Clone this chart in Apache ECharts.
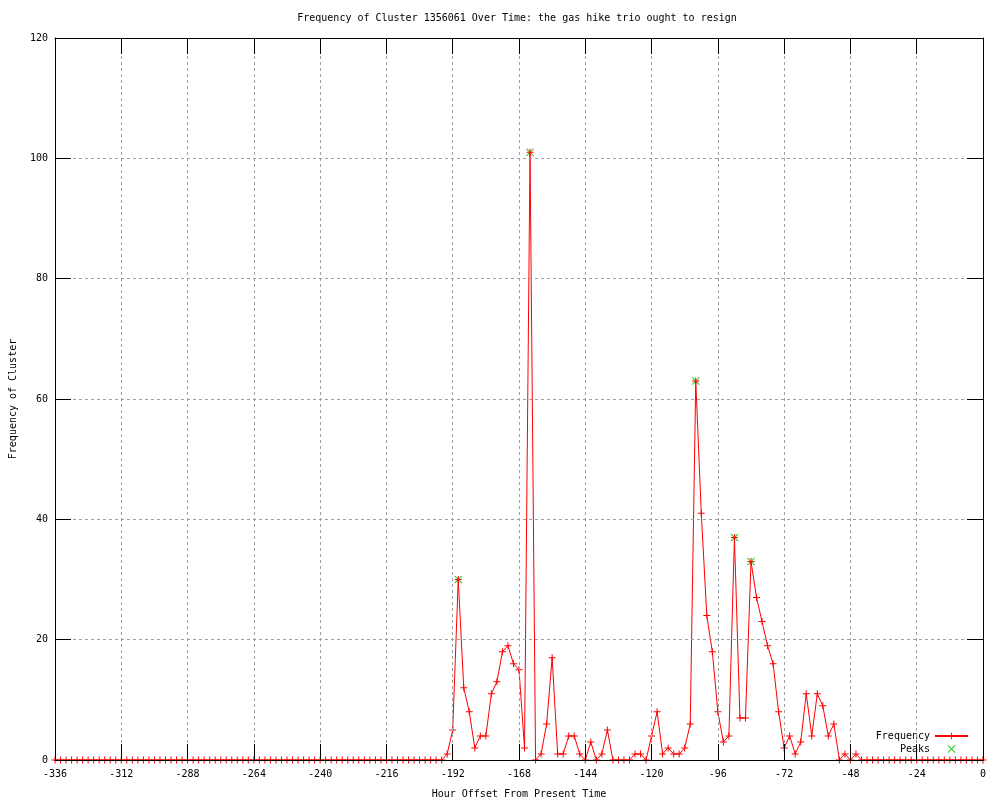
<!DOCTYPE html>
<html>
<head>
<meta charset="utf-8">
<script src="https://cdn.jsdelivr.net/npm/echarts@6/dist/echarts.min.js"></script>
<style>html,body{margin:0;padding:0;background:#fff}#c{width:1000px;height:800px}</style>
</head>
<body>
<div id="c"></div>
<script>
const titleText = 'Frequency of Cluster 1356061 Over Time: the gas hike trio ought to resign';
const xAxisTitle = 'Hour Offset From Present Time';
const yAxisTitle = 'Frequency of Cluster';

const hours = [
-336,-334,-332,-330,-328,-326,-324,-322,-320,-318,-316,-314,-312,-310,-308,-306,-304,-302,-300,-298,
-296,-294,-292,-290,-288,-286,-284,-282,-280,-278,-276,-274,-272,-270,-268,-266,-264,-262,-260,-258,
-256,-254,-252,-250,-248,-246,-244,-242,-240,-238,-236,-234,-232,-230,-228,-226,-224,-222,-220,-218,
-216,-214,-212,-210,-208,-206,-204,-202,-200,-198,-196,-194,-192,-190,-188,-186,-184,-182,-180,-178,
-176,-174,-172,-170,-168,-166,-164,-162,-160,-158,-156,-154,-152,-150,-148,-146,-144,-142,-140,-138,
-136,-134,-132,-130,-128,-126,-124,-122,-120,-118,-116,-114,-112,-110,-108,-106,-104,-102,-100,-98,
-96,-94,-92,-90,-88,-86,-84,-82,-80,-78,-76,-74,-72,-70,-68,-66,-64,-62,-60,-58,
-56,-54,-52,-50,-48,-46,-44,-42,-40,-38,-36,-34,-32,-30,-28,-26,-24,-22,-20,-18,
-16,-14,-12,-10,-8,-6,-4,-2,0
];

const frequency = [
0,0,0,0,0,0,0,0,0,0,0,0,0,0,0,0,0,0,0,0,
0,0,0,0,0,0,0,0,0,0,0,0,0,0,0,0,0,0,0,0,
0,0,0,0,0,0,0,0,0,0,0,0,0,0,0,0,0,0,0,0,
0,0,0,0,0,0,0,0,0,0,0,1,5,30,12,8,2,4,4,11,
13,18,19,16,15,2,101,0,1,6,17,1,1,4,4,1,0,3,0,1,
5,0,0,0,0,1,1,0,4,8,1,2,1,1,2,6,63,41,24,18,
8,3,4,37,7,7,33,27,23,19,16,8,2,4,1,3,11,4,11,9,
4,6,0,1,0,1,0,0,0,0,0,0,0,0,0,0,0,0,0,0,
0,0,0,0,0,0,0,0,0
];

const peakHours = [-190, -164, -104, -90, -84];
const peakValues = [30, 101, 63, 37, 33];

const xTicks = {min: -336, max: 0, interval: 24};
const yTicks = {min: 0, max: 120, interval: 20};

const FONT = 'DejaVu Sans Mono';
const plusPath = 'path://M0,3H7V4H0Z M3,0H4V7H3Z';
const xPath = 'path://M0,0.7L0.7,0L3.5,2.8L6.3,0L7,0.7L4.2,3.5L7,6.3L6.3,7L3.5,4.2L0.7,7L0,6.3L2.8,3.5Z';

const freqData = hours.map((h, i) => [h, frequency[i]]);
const peakData = peakHours.map((h, i) => [h, peakValues[i]]);

const gridColor = '#a0a0a0';
const tickLen = 16;

const chart = echarts.init(document.getElementById('c'), null, {renderer: 'canvas'});
chart.setOption({
  animation: false,
  backgroundColor: '#fff',
  grid: {left: 55, right: 17, top: 38, bottom: 40, containLabel: false, outerBoundsMode: 'none', show: false},
  graphic: [{
    type: 'text', x: 517, y: 18,
    style: {text: titleText, font: '10px "' + FONT + '"', fill: '#000', textAlign: 'center', textVerticalAlign: 'middle'}
  }],
  legend: {
    orient: 'vertical', right: 26, top: 726, align: 'right',
    itemWidth: 33, itemHeight: 8, itemGap: 3,
    textStyle: {fontFamily: FONT, fontSize: 10, color: '#000'},
    data: ['Frequency', 'Peaks']
  },
  xAxis: [{
    type: 'value', position: 'bottom', z: 5,
    min: xTicks.min, max: xTicks.max, interval: xTicks.interval,
    name: xAxisTitle, nameLocation: 'middle', nameGap: 29,
    nameTextStyle: {fontFamily: FONT, fontSize: 10, color: '#000'},
    axisLine: {show: true, onZero: false, lineStyle: {color: '#000', width: 1}},
    axisTick: {show: true, inside: true, length: tickLen, lineStyle: {color: '#000'}},
    axisLabel: {fontFamily: FONT, fontSize: 10, color: '#000', margin: 9},
    splitLine: {show: true, lineStyle: {color: gridColor, type: [3, 3], width: 1}}
  }, {
    type: 'value', position: 'top', z: 5,
    min: xTicks.min, max: xTicks.max, interval: xTicks.interval,
    axisLine: {show: true, onZero: false, lineStyle: {color: '#000', width: 1}},
    axisTick: {show: true, inside: true, length: tickLen, lineStyle: {color: '#000'}},
    axisLabel: {show: false},
    splitLine: {show: false}
  }],
  yAxis: [{
    type: 'value', position: 'left', z: 5,
    min: yTicks.min, max: yTicks.max, interval: yTicks.interval,
    name: yAxisTitle, nameLocation: 'middle', nameGap: 37,
    nameTextStyle: {fontFamily: FONT, fontSize: 10, color: '#000'},
    axisLine: {show: true, onZero: false, lineStyle: {color: '#000', width: 1}},
    axisTick: {show: true, inside: true, length: tickLen, lineStyle: {color: '#000'}},
    axisLabel: {fontFamily: FONT, fontSize: 10, color: '#000', margin: 7},
    splitLine: {show: true, lineStyle: {color: gridColor, type: [3, 3], width: 1}}
  }, {
    type: 'value', position: 'right', z: 5,
    min: yTicks.min, max: yTicks.max, interval: yTicks.interval,
    axisLine: {show: true, onZero: false, lineStyle: {color: '#000', width: 1}},
    axisTick: {show: true, inside: true, length: tickLen, lineStyle: {color: '#000'}},
    axisLabel: {show: false},
    splitLine: {show: false}
  }],
  series: [{
    name: 'Frequency', type: 'line', xAxisIndex: 0, yAxisIndex: 0,
    data: freqData, clip: false, showAllSymbol: true,
    symbol: plusPath, symbolSize: 7,
    lineStyle: {color: '#ff0000', width: 1},
    itemStyle: {color: '#ff0000'},
    emphasis: {disabled: true}
  }, {
    name: 'Peaks', type: 'scatter', xAxisIndex: 0, yAxisIndex: 0,
    data: peakData, symbol: xPath, symbolSize: 8, z: 1,
    itemStyle: {color: '#00c000'},
    emphasis: {disabled: true}
  }]
});
</script>
</body>
</html>
